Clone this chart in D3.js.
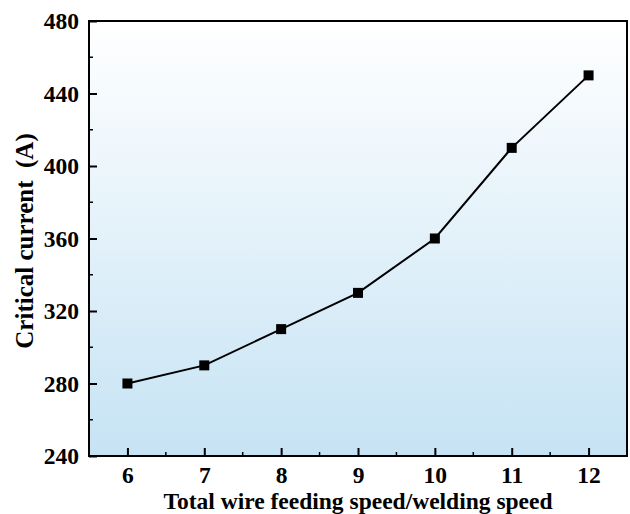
<!DOCTYPE html>
<html>
<meta charset="utf-8">
<style>
    body { margin: 0; background: #fff; }
    .tick text { font-family: "Liberation Serif", "Times New Roman", serif; font-weight: bold; }
</style>
<body>
<script src="https://d3js.org/d3.v7.min.js"></script>
<div id="chart"></div>
<script>
    var ratios = [6, 7, 8, 9, 10, 11, 12];
    var current = [280, 290, 310, 330, 360, 410, 450];
    var yTicks = [240, 280, 320, 360, 400, 440, 480];

    var width = 630, height = 514;
    var margin = { top: 21, right: 3, bottom: 58, left: 89 };
    var w = width - margin.left - margin.right;
    var h = height - margin.top - margin.bottom;

    var svg = d3.select("#chart").append("svg")
        .attr("width", width)
        .attr("height", height);

    var defs = svg.append("defs");
    var grad = defs.append("linearGradient")
        .attr("id", "bg")
        .attr("x1", 0).attr("y1", 0).attr("x2", 0).attr("y2", 1);
    grad.append("stop").attr("offset", "0%").attr("stop-color", "#ffffff");
    grad.append("stop").attr("offset", "100%").attr("stop-color", "#c6e3f4");

    var g = svg.append("g")
        .attr("transform", "translate(" + margin.left + "," + margin.top + ")");

    var x = d3.scaleLinear().domain([5.5, 12.5]).range([0, w]);
    var y = d3.scaleLinear().domain([240, 480]).range([h, 0]);

    g.append("rect")
        .attr("width", w).attr("height", h)
        .attr("fill", "url(#bg)");

    // minor ticks
    var xMinor = d3.range(6.5, 12, 1);
    var yMinor = d3.range(260, 480, 40);
    g.selectAll(".xminor").data(xMinor).enter().append("line")
        .attr("x1", function (d) { return x(d); }).attr("x2", function (d) { return x(d); })
        .attr("y1", h).attr("y2", h - 4)
        .attr("stroke", "#000").attr("stroke-width", 1.5);
    g.selectAll(".yminor").data(yMinor).enter().append("line")
        .attr("x1", 0).attr("x2", 4)
        .attr("y1", function (d) { return y(d); }).attr("y2", function (d) { return y(d); })
        .attr("stroke", "#000").attr("stroke-width", 1.5);

    var xAxis = d3.axisBottom(x).tickValues(ratios).tickFormat(d3.format("d"))
        .tickSizeInner(-8).tickSizeOuter(0).tickPadding(10);
    var yAxis = d3.axisLeft(y).tickValues(yTicks).tickFormat(d3.format("d"))
        .tickSizeInner(-8).tickSizeOuter(0).tickPadding(10);

    var gx = g.append("g").attr("transform", "translate(0," + h + ")").call(xAxis);
    var gy = g.append("g").call(yAxis);
    [gx, gy].forEach(function (a) {
        a.select(".domain").remove();
        a.selectAll(".tick line").attr("stroke", "#000").attr("stroke-width", 2);
        a.selectAll(".tick text").attr("font-size", 23.5).attr("fill", "#000");
    });

    // frame
    g.append("rect")
        .attr("width", w).attr("height", h)
        .attr("fill", "none")
        .attr("stroke", "#000").attr("stroke-width", 2);

    var pts = ratios.map(function (r, i) { return [r, current[i]]; });

    g.append("path")
        .datum(pts)
        .attr("fill", "none")
        .attr("stroke", "#000")
        .attr("stroke-width", 2)
        .attr("d", d3.line().x(function (d) { return x(d[0]); }).y(function (d) { return y(d[1]); }));

    g.selectAll(".pt").data(pts).enter().append("rect")
        .attr("x", function (d) { return x(d[0]) - 5; })
        .attr("y", function (d) { return y(d[1]) - 5; })
        .attr("width", 10).attr("height", 10)
        .attr("fill", "#000");

    svg.append("text")
        .attr("x", 358).attr("y", 509)
        .attr("text-anchor", "middle")
        .attr("font-family", "Liberation Serif, Times New Roman, serif")
        .attr("font-weight", "bold").attr("font-size", 23.5)
        .text("Total wire feeding speed/welding speed");

    svg.append("text")
        .attr("transform", "translate(33,241) rotate(-90)")
        .attr("text-anchor", "middle")
        .attr("font-family", "Liberation Serif, Times New Roman, serif")
        .attr("font-weight", "bold").attr("font-size", 25)
        .attr("xml:space", "preserve")
        .text("Critical current  (A)");
</script>
</body>
</html>
